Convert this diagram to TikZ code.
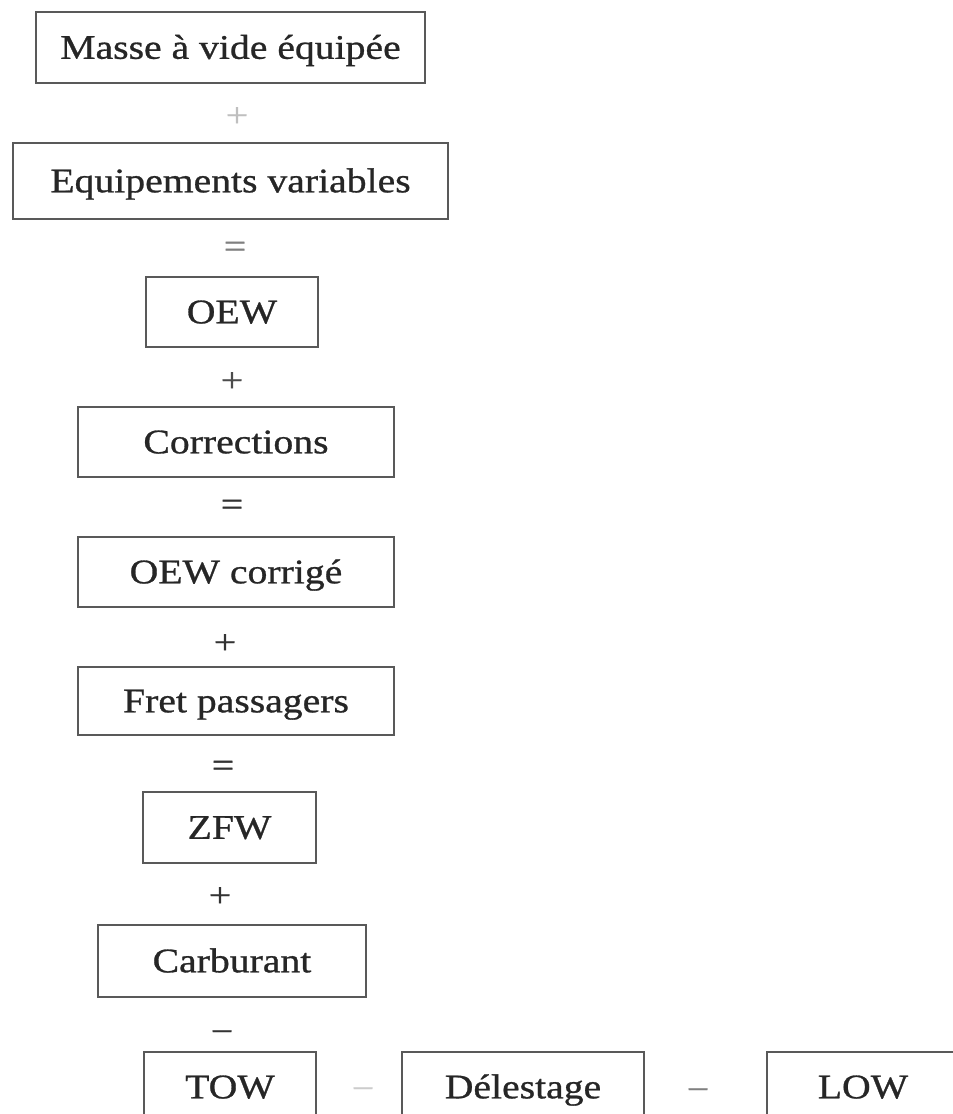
\documentclass[tikz,border=0pt]{standalone}
\usepackage{fontspec}
\setmainfont[FakeStretch=1.15, FakeBold=0.8]{Liberation Serif}
\begin{document}
\begin{tikzpicture}[x=1pt,y=-1pt,
  basefont/.style={font=\fontsize{34.5}{40}\selectfont},
  box/.style={basefont, draw=black!65, line width=1.5pt, inner sep=0pt,
    text=black!85, text height=22.6pt, text depth=0pt, minimum height=70pt},
  op/.style={basefont, inner sep=0pt, text height=27.3pt, text depth=0pt, text=black!80}]
\useasboundingbox (0,0) rectangle (953,1114);
\clip (0,0) rectangle (953,1114);

% main column of masses
\node[box, minimum width=389pt, minimum height=71pt] (mve)  at (230.5,47.5) {Masse à vide équipée};
\node[op, text=black!25] (op1) at (237,113) {+};
\node[box, minimum width=435pt, minimum height=76pt] (eqv)  at (230.5,181) {Equipements variables};
\node[op, text=black!50] (op2) at (235,244) {=};
\node[box, minimum width=172pt] (oew)  at (232,312) {OEW};
\node[op, text=black!70] (op3) at (232,378) {+};
\node[box, minimum width=316pt] (corr) at (236,442) {Corrections};
\node[op] (op4) at (232,502) {=};
\node[box, minimum width=316pt] (oewc) at (236,572) {OEW corrigé};
\node[op] (op5) at (225,640) {+};
\node[box, minimum width=316pt, minimum height=68pt] (fret) at (236,701) {Fret passagers};
\node[op] (op6) at (223,763) {=};
\node[box, minimum width=173pt, minimum height=71pt] (zfw)  at (229.5,827.5) {ZFW};
\node[op] (op7) at (220,893) {+};
\node[box, minimum width=268pt, minimum height=72pt] (carb) at (232,961) {Carburant};
\node[op] (op8) at (222,1029) {−};

% bottom row
\node[box, minimum width=172pt] (tow)  at (230,1087) {TOW};
\node[op, text=black!20] (op9) at (363,1086) {−};
\node[box, minimum width=242pt] (dele) at (523,1087) {Délestage};
\node[op, text=black!50] (op10) at (698,1087) {−};
\node[box, minimum width=192pt] (low)  at (863,1087) {LOW};
\end{tikzpicture}
\end{document}
